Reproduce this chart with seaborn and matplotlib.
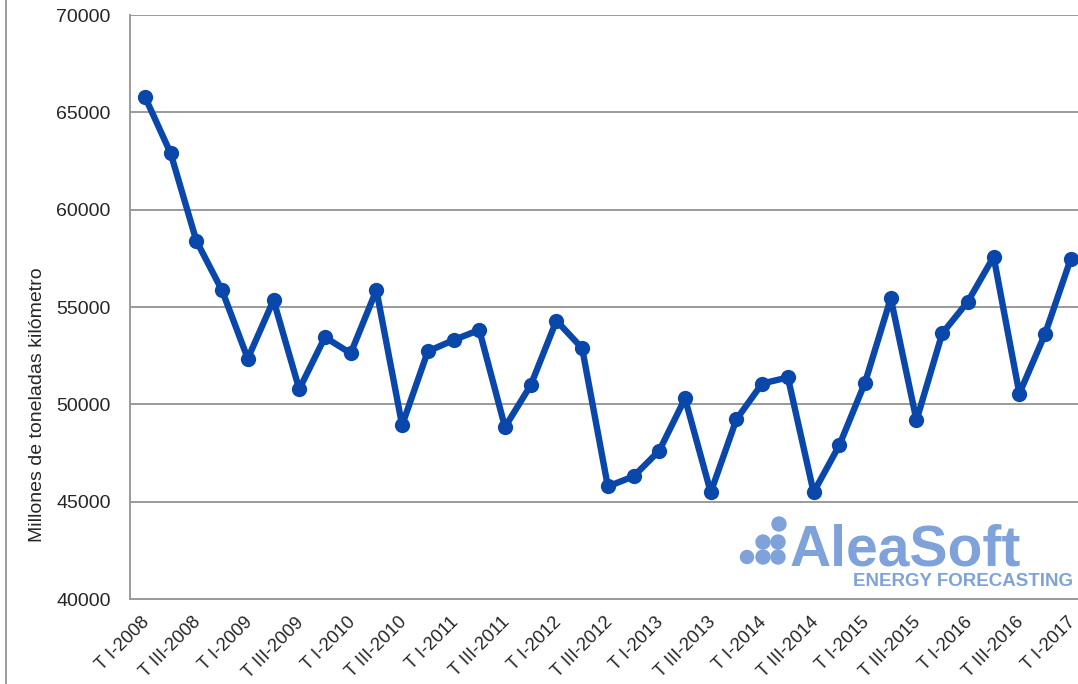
import numpy as np
import pandas as pd
import matplotlib.pyplot as plt
import matplotlib.transforms as mtransforms
import seaborn as sns
from matplotlib.patches import Circle
from matplotlib.lines import Line2D

# quarterly freight traffic (millones de toneladas kilometro), T I-2008 .. T I-2017
quarters = [
    "T I-2008", "T II-2008", "T III-2008", "T IV-2008",
    "T I-2009", "T II-2009", "T III-2009", "T IV-2009",
    "T I-2010", "T II-2010", "T III-2010", "T IV-2010",
    "T I-2011", "T II-2011", "T III-2011", "T IV-2011",
    "T I-2012", "T II-2012", "T III-2012", "T IV-2012",
    "T I-2013", "T II-2013", "T III-2013", "T IV-2013",
    "T I-2014", "T II-2014", "T III-2014", "T IV-2014",
    "T I-2015", "T II-2015", "T III-2015", "T IV-2015",
    "T I-2016", "T II-2016", "T III-2016", "T IV-2016",
    "T I-2017",
]
values = [
    65800, 62900, 58400, 55850,
    52350, 55350, 50780, 53450,
    52620, 55870, 48930, 52720,
    53300, 53820, 48830, 50980,
    54300, 52880, 45780, 46300,
    47620, 50300, 45480, 49230,
    51070, 51380, 45480, 47900,
    51120, 55450, 49180, 53640,
    55280, 57580, 50550, 53620,
    57480,
]
yticks = [40000, 45000, 50000, 55000, 60000, 65000, 70000]

df = pd.DataFrame({"pos": np.arange(len(quarters)), "quarter": quarters, "value": values})

sns.set_style("white")
plt.rcParams["font.family"] = ["Liberation Sans", "DejaVu Sans"]

fig = plt.figure(figsize=(10.78, 6.84), dpi=100)
ax = fig.add_axes([130 / 1078, 1 - 599 / 684, 948 / 1078, 584 / 684])

line_col = "#0A47AA"
sns.lineplot(data=df, x="pos", y="value", ax=ax, color=line_col, linewidth=4.6,
             marker="o", markersize=11, markeredgewidth=0, clip_on=False)

ax.set_ylim(40000, 70000)
ax.set_xlim(-0.58, 36.28)
ax.set_yticks(yticks)
ax.set_yticklabels([str(v) for v in yticks], fontsize=14)
ax.set_xticks(df["pos"][::2])
ax.set_xticklabels(df["quarter"][::2], rotation=45, ha="right",
                   rotation_mode="anchor", fontsize=13.2)
ax.tick_params(axis="x", length=0, pad=10)
ax.tick_params(axis="y", length=0, pad=14)

# nudge the rotated quarter labels a little left
shift = mtransforms.ScaledTranslation(-4 / 100, -1 / 100, fig.dpi_scale_trans)
for lab in ax.get_xticklabels():
    lab.set_transform(lab.get_transform() + shift)

ax.grid(axis="y", color="#9a9a9a", linewidth=1.4)
ax.set_axisbelow(True)
for s in ["top", "right"]:
    ax.spines[s].set_visible(False)
for s in ["left", "bottom"]:
    ax.spines[s].set_color("#9a9a9a")
    ax.spines[s].set_linewidth(1.4)

ax.set_xlabel("")
ax.set_ylabel("Millones de toneladas kilómetro", fontsize=14)
ax.yaxis.set_label_coords(-0.089, 0.332)

# watermark logo
logo = "#7FA2DA"
fig.text(790 / 1078, 1 - 566 / 684, "AleaSoft", fontsize=41, fontweight="bold",
         color=logo, ha="left", va="baseline")
fig.text(1073 / 1078, 1 - 586 / 684, "ENERGY FORECASTING", fontsize=13.5,
         fontweight="bold", color=logo, ha="right", va="baseline")
dots = [(747, 557, 6.5), (763, 557, 7), (778, 557, 7),
        (763, 542, 7), (778, 542, 7), (779, 524, 7)]
for dx, dy, r in dots:
    fig.patches.append(Circle((dx, 684 - dy), r, transform=None, color=logo))

# outer chart border on the left
fig.lines.append(Line2D([6 / 1078, 6 / 1078], [0, 1], transform=fig.transFigure,
                        color="#9a9a9a", linewidth=1.4))

fig.savefig("out.png", dpi=100)
